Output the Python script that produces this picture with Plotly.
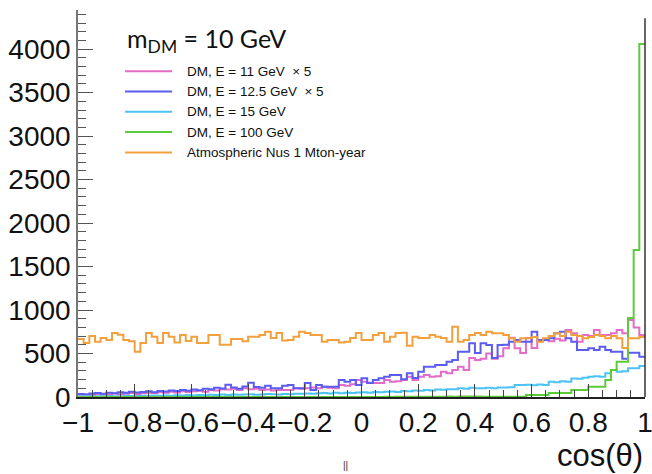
import numpy as np
import plotly.graph_objects as go

# ---- data (100 bins from -1 to 1) ----
x_low, x_high, n_bins = -1.0, 1.0, 100

dm11_x5 = [25,30,22,35,28,30,40,32,38,45,35,42,50,45,55,48,60,52,65,58,
           65,72,60,80,75,90,85,95,80,100,88,95,80,85,75,80,
           80,80,100,95,100,110,100,118,105,100,138,130,148,195,176,165,160,160,195,176,180,
           195,233,195,233,253,233,240,291,272,310,348,310,448,425,
           440,500,440,470,560,680,560,505,678,563,640,660,640,670,650,770,733,636,713,700,
           770,713,713,733,770,733,885,800,713]

dm125_x5 = [35,28,40,45,38,50,42,55,48,60,52,58,65,55,70,62,75,68,80,72,
            85,78,95,88,105,98,140,110,95,120,165,115,105,130,100,100,
            130,138,100,100,160,80,138,118,118,118,195,176,195,138,215,160,195,215,233,253,253,
            203,272,218,291,348,348,368,368,406,425,521,521,617,505,
            617,598,448,598,600,636,655,636,636,750,655,655,676,733,750,676,636,540,540,560,
            540,578,540,521,521,440,510,510,463]

dm15 = [5,8,6,10,8,12,9,10,14,11,12,15,13,16,14,18,15,20,17,22,
        18,22,20,25,22,28,24,30,26,28,32,27,30,35,32,30,
        35,32,38,36,40,38,42,45,40,48,44,50,46,52,55,50,58,54,60,62,58,
        70,66,75,72,80,76,85,82,90,88,100,95,105,100,
        100,105,100,108,110,112,138,138,140,135,145,138,176,170,180,176,214,210,220,233,
        240,233,272,310,291,295,330,330,356]

dm100 = [0]*50 + [1,0,1,1,2,1,2,2,3,2,3,3,4,3,4,5,4,5,6,5,
         6,3,3,4,3,4,3,3,4,23,23,23,23,46,46,46,46,80,80,80,
         118,118,118,195,310,406,406,908,1690,4060]

atm_nus = [667,620,700,636,678,655,735,716,655,640,521,620,735,693,620,735,693,627,712,645,
           693,620,620,712,712,600,600,667,667,640,693,693,712,750,678,735,
           650,655,693,750,735,712,712,636,655,655,627,636,678,735,655,655,712,735,636,693,735,
           740,590,693,678,678,712,693,678,636,808,636,655,712,735,
           713,750,733,733,713,676,636,676,676,690,636,676,700,733,700,750,713,700,676,690,
           713,700,676,700,676,563,676,676,690]

series_names = ["DM, E = 11 GeV  \u00d7 5", "DM, E = 12.5 GeV  \u00d7 5", "DM, E = 15 GeV",
                "DM, E = 100 GeV", "Atmospheric Nus 1 Mton-year"]
series_values = [dm11_x5, dm125_x5, dm15, dm100, atm_nus]
series_colors = ["#e46cc8", "#5b5cf0", "#4dc3f5", "#5ccb3a", "#f2a03c"]

x_tick_vals = [-1, -0.8, -0.6, -0.4, -0.2, 0, 0.2, 0.4, 0.6, 0.8, 1]
x_tick_text = ["\u22121", "\u22120.8", "\u22120.6", "\u22120.4", "\u22120.2", "0", "0.2", "0.4", "0.6", "0.8", "1"]
y_tick_vals = [0, 500, 1000, 1500, 2000, 2500, 3000, 3500, 4000]

edges = np.linspace(x_low, x_high, n_bins + 1)

fig = go.Figure()
for name, vals, col in zip(series_names, series_values, series_colors):
    fig.add_trace(go.Scatter(
        x=edges, y=list(vals) + [vals[-1]], mode="lines", line_shape="hv",
        line=dict(color=col, width=2), name=name, showlegend=False,
        hoverinfo="skip"))

# manual legend (swatch line + text)
leg_x0, leg_x1, leg_text_x = 0.083, 0.166, 0.189
leg_y_top, leg_dy = 0.842, 0.0525
for i, (name, col) in enumerate(zip(series_names, series_colors)):
    yy = leg_y_top - i * leg_dy
    fig.add_shape(type="line", xref="paper", yref="paper", x0=leg_x0, x1=leg_x1,
                  y0=yy, y1=yy, line=dict(color=col, width=2))
    fig.add_annotation(xref="paper", yref="paper", x=leg_text_x, y=yy, text=name,
                       showarrow=False, xanchor="left", yanchor="middle",
                       font=dict(family="Liberation Sans, Arial", size=13.5, color="#111"))

fig.add_annotation(xref="paper", yref="paper", x=0.083, y=0.922,
                   text="m<sub>DM</sub> = 10 GeV", showarrow=False,
                   xanchor="left", yanchor="middle",
                   font=dict(family="Lato, DejaVu Sans", size=25, color="#111"))

fig.add_annotation(xref="paper", yref="paper", x=1.0, y=-0.15, text="cos(\u03b8)",
                   showarrow=False, xanchor="right", yanchor="middle",
                   font=dict(family="Liberation Sans, Arial", size=31, color="#111"))

fig.add_annotation(xref="paper", yref="paper", x=0.471, y=-0.176, text="||",
                   showarrow=False, xanchor="center", yanchor="middle",
                   font=dict(family="Liberation Sans, Arial", size=10, color="#333"))

# right frame line
fig.add_shape(type="line", xref="paper", yref="paper", x0=1, x1=1, y0=0, y1=0.979,
              line=dict(color="#333", width=1.5))

fig.update_xaxes(range=[x_low, x_high], tickvals=x_tick_vals, ticktext=x_tick_text,
                 tickangle=0, ticklabeloverflow="allow", automargin=False,
                 ticks="inside", ticklen=13, tickcolor="#444", tickwidth=1,
                 minor=dict(ticks="inside", ticklen=7, dtick=0.05, tickcolor="#444"),
                 showline=True, linecolor="#222", linewidth=1.5, showgrid=False,
                 zeroline=False,
                 tickfont=dict(family="Liberation Sans, Arial", size=28, color="#111"))
fig.update_yaxes(range=[0, 4450], tickvals=y_tick_vals, automargin=False,
                 ticks="inside", ticklen=15, tickcolor="#555", tickwidth=1,
                 minor=dict(ticks="inside", ticklen=8, dtick=100, tickcolor="#555"),
                 showline=True, linecolor="#777", linewidth=1.5, showgrid=False,
                 zeroline=False,
                 tickfont=dict(family="Liberation Sans, Arial", size=28, color="#111"))

fig.update_layout(width=652, height=474, margin=dict(l=78, r=7, t=10, b=77),
                  paper_bgcolor="white", plot_bgcolor="white", showlegend=False)

fig.write_html("out.html")
